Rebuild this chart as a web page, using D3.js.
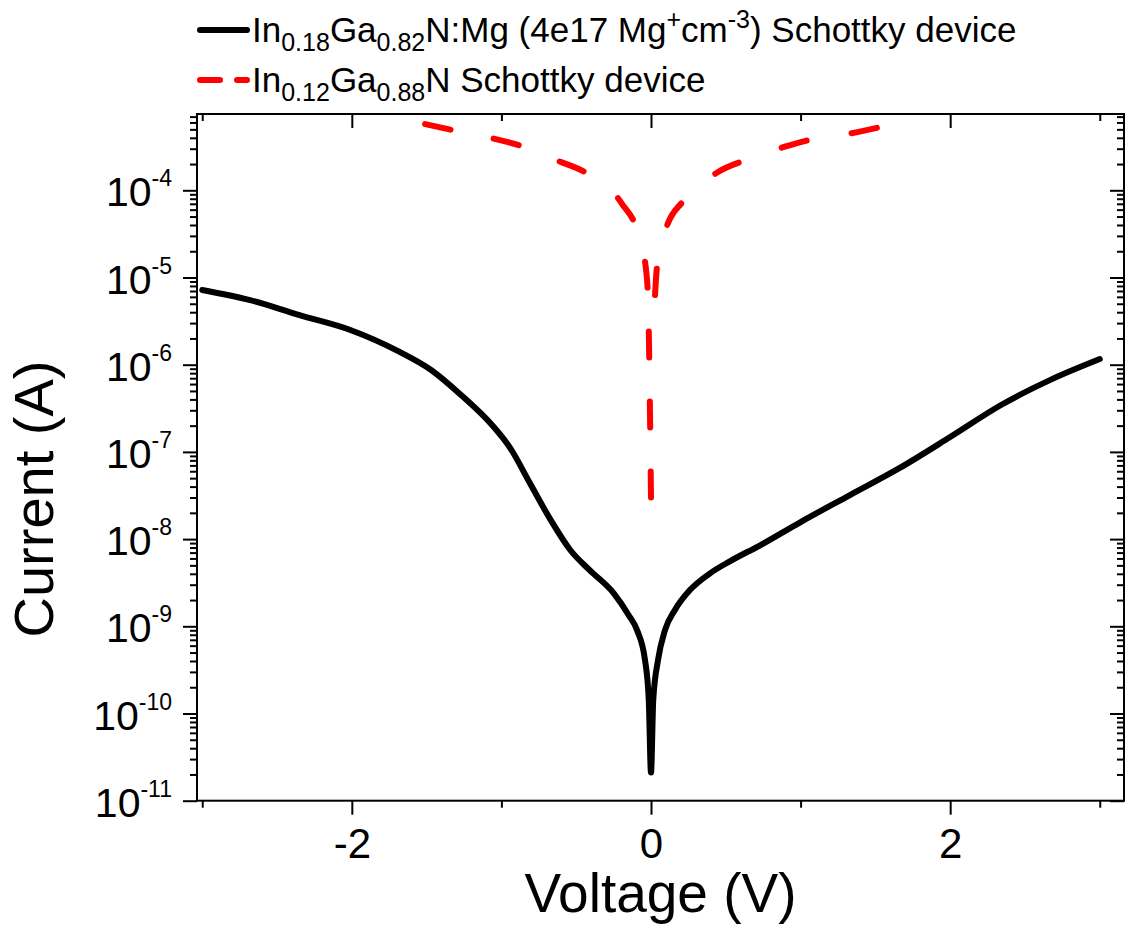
<!DOCTYPE html>
<html>
<head>
<meta charset="utf-8">
<script src="https://cdn.jsdelivr.net/npm/d3@7"></script>
<style>
  body { margin: 0; background: #fff; }
  svg { display: block; font-family: "Liberation Sans", Arial, sans-serif; }
</style>
</head>
<body>
<svg id="chart" width="1125" height="944"></svg>
<script>
// Mg-doped InGaN device (black, solid)
const blackV = [-3, -2.68, -2.35, -2.01, -1.68, -1.47, -1.27, -1.07, -0.94, -0.81, -0.67, -0.54,
  -0.41, -0.25, -0.15, -0.094, -0.04, -0.015, 0, 0.015, 0.047, 0.094, 0.16, 0.26, 0.39, 0.53,
  0.73, 1.0, 1.33, 1.66, 2.0, 2.34, 2.67, 3.0];
const blackI = [7.2e-6, 5.5e-6, 3.7e-6, 2.5e-6, 1.4e-6, 8.7e-7, 4.5e-7, 2.1e-7, 1.1e-7, 4.4e-8, 1.65e-8, 7.5e-9,
  4.4e-9, 2.4e-9, 1.35e-9, 9.1e-10, 4.1e-10, 1.43e-10, 2.1e-11, 1.43e-10, 4.1e-10, 9.1e-10, 1.54e-9, 2.6e-9, 4.0e-9, 5.6e-9,
  8.5e-9, 1.57e-8, 3.2e-8, 6.5e-8, 1.48e-7, 3.45e-7, 6.7e-7, 1.16e-6];

// undoped InGaN device (red, dashed)
const redV = [-1.51, -1.3, -1.076, -0.862, -0.628, -0.421, -0.194, -0.087, -0.033, -0.02, 0,
  0.027, 0.04, 0.1, 0.214, 0.448, 0.655, 0.889, 1.096, 1.337, 1.51];
const redI = [5.75e-4, 4.8e-4, 4.0e-4, 3.2e-4, 2.2e-4, 1.54e-4, 7.0e-5, 3.2e-5, 1.22e-5, 5.8e-6, 3.0e-8,
  6.3e-6, 1.32e-5, 3.6e-5, 7.5e-5, 1.62e-4, 2.29e-4, 3.14e-4, 3.9e-4, 4.5e-4, 5.2e-4];

const xMajor = [-2, 0, 2];
const xMinor = [-3, -1, 1, 3];
const yDecades = [-11, -10, -9, -8, -7, -6, -5, -4];

const plotL = 197, plotR = 1124, plotT = 114, plotB = 800.7;

const svg = d3.select("#chart");
svg.append("rect").attr("width", 1125).attr("height", 944).attr("fill", "#fff");

const x = d3.scaleLinear().domain([-3.035, 3.162]).range([plotL, plotR]);
const y = d3.scaleLog().domain([1e-11, 7.5e-4]).range([plotB, plotT]);

// minor ticks on the log axis: 2..9 x 10^k
var yMinor = [];
yDecades.forEach(function (k) {
  for (var m = 2; m <= 9; m++) {
    var v = m * Math.pow(10, k);
    if (v < y.domain()[1]) yMinor.push(v);
  }
});
const yMajorVals = yDecades.map(k => Math.pow(10, k));

function styleAxis(g) {
  g.select(".domain").remove();
  g.selectAll(".tick line").attr("stroke", "#000").attr("stroke-width", 2);
  g.selectAll(".tick text").attr("fill", "#000");
}

// bottom
svg.append("g").attr("transform", `translate(0,${plotB})`)
  .call(d3.axisBottom(x).tickValues(xMajor).tickSize(14).tickPadding(13).tickFormat(d => String(d)))
  .call(styleAxis)
  .selectAll("text").attr("font-size", 42).attr("font-family", "Liberation Sans, Arial");
svg.append("g").attr("transform", `translate(0,${plotB})`)
  .call(d3.axisBottom(x).tickValues(xMinor).tickSize(7).tickFormat(""))
  .call(styleAxis);

// top (inward)
svg.append("g").attr("transform", `translate(0,${plotT})`)
  .call(d3.axisTop(x).tickValues(xMajor).tickSize(-14).tickFormat(""))
  .call(styleAxis);
svg.append("g").attr("transform", `translate(0,${plotT})`)
  .call(d3.axisTop(x).tickValues(xMinor).tickSize(-7).tickFormat(""))
  .call(styleAxis);

// left (outward)
svg.append("g").attr("transform", `translate(${plotL},0)`)
  .call(d3.axisLeft(y).tickValues(yMajorVals).tickSize(14).tickFormat(""))
  .call(styleAxis);
svg.append("g").attr("transform", `translate(${plotL},0)`)
  .call(d3.axisLeft(y).tickValues(yMinor).tickSize(7).tickFormat(""))
  .call(styleAxis);

// right (inward)
svg.append("g").attr("transform", `translate(${plotR},0)`)
  .call(d3.axisRight(y).tickValues(yMajorVals).tickSize(-14).tickFormat(""))
  .call(styleAxis);
svg.append("g").attr("transform", `translate(${plotR},0)`)
  .call(d3.axisRight(y).tickValues(yMinor).tickSize(-7).tickFormat(""))
  .call(styleAxis);

// y tick labels 10^k
var yLab = svg.append("g").selectAll("text").data(yDecades).join("text")
  .attr("x", 172).attr("y", d => y(Math.pow(10, d)) + 16)
  .attr("text-anchor", "end").attr("fill", "#000");
yLab.append("tspan").attr("font-size", 41).text("10");
yLab.append("tspan").attr("font-size", 23).attr("dy", -20).text(d => String(d));

// frame
svg.append("rect")
  .attr("x", plotL).attr("y", plotT)
  .attr("width", plotR - plotL).attr("height", plotB - plotT)
  .attr("fill", "none").attr("stroke", "#000").attr("stroke-width", 2);

// curves
const line = d3.line().x(d => x(d[0])).y(d => y(d[1])).curve(d3.curveMonotoneX);

const blackPts = blackV.map((v, i) => [v, blackI[i]]);
svg.append("path").datum(blackPts)
  .attr("d", line)
  .attr("fill", "none").attr("stroke", "#000").attr("stroke-width", 6)
  .attr("stroke-linejoin", "round").attr("stroke-linecap", "round");

// red curve: the branch down to the 0 V point, and the branch rising after it
const dashOn = 26, dashPeriod = 66;
const redPts = redV.map((v, i) => [v, redI[i]]);
const redParts = [redPts.filter(d => d[0] <= 0), redPts.filter(d => d[0] > 0)];
svg.selectAll(".red").data(redParts).join("path")
  .attr("class", "red")
  .attr("d", line)
  .attr("fill", "none").attr("stroke", "#ff0000").attr("stroke-width", 6)
  .attr("stroke-linejoin", "round").attr("stroke-linecap", "round")
  .attr("stroke-dasharray", function () {
    // stretch the gaps a little so each branch starts and ends on a dash
    var L = this.getTotalLength();
    var n = Math.max(1, Math.round((L - dashOn) / dashPeriod));
    return dashOn + "," + ((L - dashOn) / n - dashOn);
  });

// axis titles
svg.append("text")
  .attr("x", (plotL + plotR) / 2).attr("y", 912)
  .attr("text-anchor", "middle").attr("font-size", 55).attr("fill", "#000")
  .text("Voltage (V)");
svg.append("text")
  .attr("transform", "translate(53,499) rotate(-90)")
  .attr("text-anchor", "middle").attr("font-size", 56).attr("fill", "#000")
  .text("Current (A)");

// legend
const legend = svg.append("g");
legend.append("line").attr("x1", 200).attr("x2", 247).attr("y1", 30).attr("y2", 30)
  .attr("stroke", "#000").attr("stroke-width", 6).attr("stroke-linecap", "round");
legend.append("line").attr("x1", 200).attr("x2", 247).attr("y1", 80).attr("y2", 80)
  .attr("stroke", "#ff0000").attr("stroke-width", 6).attr("stroke-linecap", "round")
  .attr("stroke-dasharray", "20,17");

function richText(yPos, parts) {
  var t = legend.append("text").attr("x", 252).attr("y", yPos)
    .attr("font-size", 35).attr("fill", "#000");
  var shift = 0;
  parts.forEach(function (p) {
    var target = p.sub ? 9 : p.sup ? -14 : 0;
    var ts = t.append("tspan").attr("dy", target - shift).text(p.t);
    if (p.sub || p.sup) ts.attr("font-size", 25);
    shift = target;
  });
}
richText(42, [
  { t: "In" }, { t: "0.18", sub: true }, { t: "Ga" }, { t: "0.82", sub: true },
  { t: "N:Mg (4e17 Mg" }, { t: "+", sup: true }, { t: "cm" }, { t: "-3", sup: true },
  { t: ") Schottky device" }
]);
richText(92, [
  { t: "In" }, { t: "0.12", sub: true }, { t: "Ga" }, { t: "0.88", sub: true },
  { t: "N Schottky device" }
]);
</script>
</body>
</html>
